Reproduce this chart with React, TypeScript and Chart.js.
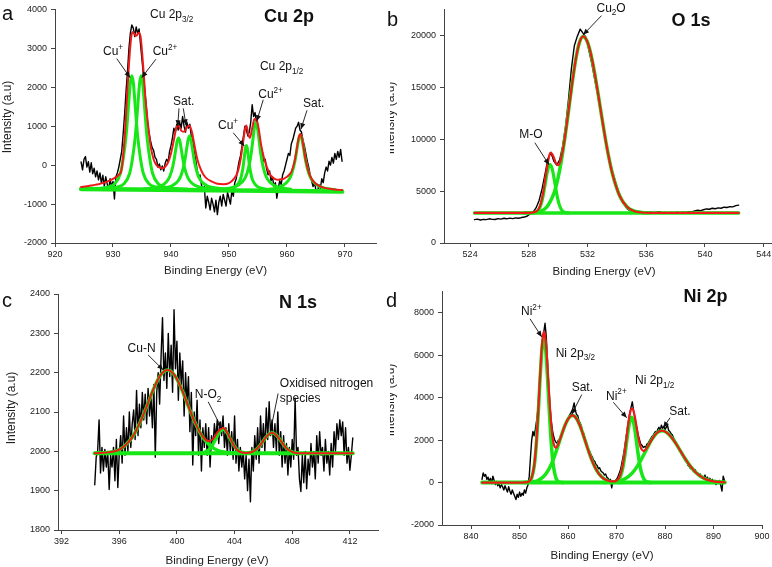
import React, { useEffect, useRef } from "react";
import { Chart, registerables } from "chart.js";
Chart.register(...registerables);

type Pt = [number, number];
const FONT = '"Liberation Sans", Arial, Helvetica, sans-serif';
const GREEN = "#17e617";
const RED = "#ee1a1a";
const BLACK = "#000000";

// ================= Panel a : Cu 2p =================
const cuXTicks = [920, 930, 940, 950, 960, 970];
const cuYTicks = [-2000, -1000, 0, 1000, 2000, 3000, 4000];
const cuRawStart = 924.5;
const cuRawStep = 0.25;
const cuRaw = [
  80, -120, 150, 220,
  -50, 90, -180, 60,
  -220, -80, -300, -150,
  -380, -200, -460, -260,
  -540, -300, -480, -650,
  -350, -560, -420, -870,
  -300, -200, -50, 150,
  350, 800, 1300, 1900,
  2400, 3000, 3400, 3600,
  3520, 3300, 3550, 3380,
  3500, 3100, 2700, 2300,
  1900, 1500, 1050, 800,
  600, 450, 380, 200,
  150, -50, 30, -120,
  -20, -150, 50, 150,
  80, 350, 500, 700,
  950, 850, 1050, 900,
  1100, 950, 1250, 1000,
  850, 1100, 950, 1050,
  750, 600, 350, 150,
  -100, -300, -250, -500,
  -650, -550, -1100, -800,
  -950, -1150, -850, -1000,
  -1200, -900, -1270, -950,
  -800, -1050, -750, -900,
  -1050, -700, -850, -1000,
  -650, -800, -450, -350,
  -100, 100, 250, 500,
  750, 1000, 900, 750,
  850, 1100, 1550, 1250,
  1350, 1050, 850, 700,
  450, 350, 100, 150,
  -100, -250, -150, -400,
  -300, -550, -450, -850,
  -600, -400, -500, -250,
  -150, 0, 150, 300,
  250, 550, 650, 800,
  950, 1000, 1100, 900,
  850, 650, 500, 300,
  100, -50, -250, -400,
  -550, -450, -650, -700,
  -500, -600, -350, -450,
  -200, -50, -150, 100,
  0, 200, 50, 300,
  150, 350, 200, 400,
  100,
];
const cuBase: Pt[] = [[924.5, -615], [969.5, -680]];
const cuPlus32: Pt[] = [
  [925.25, -617], [927.25, -603], [929.25, -559], [930.25, -486], [931.25, -222], [931.75, 159],
  [932.25, 745], [932.5, 1185], [932.75, 1683], [933.0, 2122], [933.25, 2298], [933.5, 2122],
  [933.75, 1683], [934.0, 1185], [934.25, 745], [934.75, 159], [935.25, -222], [936.25, -486],
  [937.25, -559], [939.25, -603], [941.25, -617],
];
const cu2Plus32: Pt[] = [
  [926.85, -617], [928.85, -603], [930.85, -559], [931.85, -486], [932.85, -222], [933.35, 159],
  [933.85, 745], [934.1, 1185], [934.35, 1683], [934.6, 2122], [934.85, 2298], [935.1, 2122],
  [935.35, 1683], [935.6, 1185], [935.85, 745], [936.35, 159], [936.85, -222], [937.85, -486],
  [938.85, -559], [940.85, -603], [942.85, -617],
];
const cuSatA: Pt[] = [
  [935.3, -612], [937.3, -577], [938.3, -530], [939.3, -416], [939.8, -286], [940.3, -42],
  [940.55, 150], [940.8, 383], [941.05, 605], [941.3, 699], [941.55, 605], [941.8, 383],
  [942.05, 150], [942.3, -42], [942.8, -286], [943.3, -416], [944.3, -530], [945.3, -577], [947.3, -612],
];
const cuSatB: Pt[] = [
  [937.2, -612], [939.2, -576], [940.2, -528], [941.2, -409], [941.7, -275], [942.2, -22],
  [942.45, 177], [942.7, 419], [942.95, 650], [943.2, 747], [943.45, 650], [943.7, 419],
  [943.95, 177], [944.2, -22], [944.7, -275], [945.2, -409], [946.2, -528], [947.2, -576], [949.2, -612],
];
const cuPlus12: Pt[] = [
  [949.4, -625], [950.6, -588], [951.2, -540], [951.8, -424], [952.1, -299], [952.4, -76],
  [952.55, 86], [952.7, 272], [952.85, 436], [953.0, 504], [953.15, 436], [953.3, 272],
  [953.45, 86], [953.6, -76], [953.9, -299], [954.2, -424], [954.8, -540], [955.4, -588], [956.6, -625],
];
const cu2Plus12: Pt[] = [
  [948.65, -619], [950.65, -574], [951.65, -512], [952.65, -362], [953.15, -192], [953.65, 129],
  [953.9, 380], [954.15, 687], [954.4, 979], [954.65, 1102], [954.9, 979], [955.15, 687],
  [955.4, 380], [955.65, 129], [956.15, -192], [956.65, -362], [957.65, -512], [958.65, -574], [960.65, -619],
];
const cuSat12: Pt[] = [
  [956.3, -630], [958.3, -584], [959.3, -525], [960.3, -381], [960.8, -225], [961.3, 51],
  [961.55, 253], [961.8, 483], [962.05, 686], [962.3, 771], [962.55, 686], [962.8, 483],
  [963.05, 253], [963.3, 51], [963.8, -225], [964.3, -381], [965.3, -525], [966.3, -584], [968.3, -630],
];
const cuFit: Pt[] = [
  [924.5, -560], [925.5, -540], [926.5, -515], [927.5, -490], [928.5, -450], [929.5, -390],
  [930.5, -310], [931, -250], [931.5, -100], [932, 700], [932.4, 1700], [932.9, 2900],
  [933.2, 3350], [933.45, 3420], [933.95, 3320], [934.5, 3400], [934.8, 3250], [935.2, 2550],
  [935.6, 1700], [936, 1100], [936.5, 480], [937, 150], [937.5, 0], [938, -60], [938.5, -80],
  [939, -40], [939.5, 70], [940, 300], [940.5, 650], [940.9, 950], [941.25, 1020], [941.8, 880],
  [942.25, 860], [942.8, 980], [943.15, 1020], [943.6, 860], [944, 550], [944.5, 180], [945, -60],
  [945.5, -220], [946, -320], [947, -420], [948, -480], [949, -490], [950, -460], [950.8, -360],
  [951.5, -180], [952, 150], [952.4, 550], [952.8, 950], [953, 1020], [953.35, 780], [953.6, 700],
  [954, 950], [954.4, 1180], [954.7, 1190], [955.1, 950], [955.5, 560], [956, 200], [956.5, -40],
  [957, -220], [957.5, -310], [958, -360], [958.5, -375], [959, -365], [959.5, -345], [960, -300],
  [960.3, -260], [960.8, -160], [961.3, 90], [961.55, 290], [961.8, 520], [962.05, 720], [962.3, 800],
  [962.55, 715], [962.8, 510], [963.05, 280], [963.3, 75], [963.8, -205], [964.3, -365], [965.3, -515],
  [966.3, -578], [968.3, -625], [969.5, -640],
];

// ================= Panel b : O 1s =================
const oXTicks = [524, 528, 532, 536, 540, 544];
const oYTicks = [0, 5000, 10000, 15000, 20000];
const oRawStart = 524.3;
const oRawStep = 0.2;
const oRaw = [
  2250, 2300, 2220, 2280, 2250,
  2330, 2280, 2260, 2350, 2300,
  2380, 2330, 2400, 2350, 2420,
  2380, 2450, 2500, 2600, 2800,
  3000, 3400, 4100, 5200, 6600,
  8100, 8750, 7900, 7500, 8000,
  9300, 11200, 13800, 16800, 19000,
  19900, 20600, 20200, 19800, 18500,
  17200, 15700, 14200, 12500, 10800,
  9300, 8000, 6900, 5900, 5000,
  4300, 3700, 3300, 3100, 3000,
  2980, 2920, 3000, 2950, 2930,
  3000, 2900, 2960, 3020, 2900,
  2950, 2880, 2950, 2900, 2980,
  2920, 2970, 2950, 3020, 3000,
  3100, 3150, 3120, 3200, 3280,
  3250, 3350, 3300, 3380, 3350,
  3450, 3420, 3500, 3480, 3600,
  3650,
];
const oBase: Pt[] = [[524.3, 2900], [542.3, 2900]];
const oMO: Pt[] = [
  [528.2, 2900], [528.45, 2947], [528.65, 3146], [528.85, 3790], [529.0, 4735], [529.15, 5976],
  [529.3, 7093], [529.45, 7550], [529.6, 7093], [529.75, 5976], [529.9, 4735], [530.05, 3790],
  [530.25, 3146], [530.45, 2947], [530.7, 2900],
];
const oCu2O: Pt[] = [
  [527.7, 2900], [528.2, 2919], [528.7, 3016], [529.2, 3432], [529.7, 4753], [529.95, 6016],
  [530.2, 7788], [530.45, 10054], [530.7, 12670], [530.95, 15349], [531.2, 17702], [531.45, 19322],
  [531.7, 19900], [531.95, 19502], [532.2, 18367], [532.45, 16643], [532.7, 14548], [532.95, 12318],
  [533.2, 10161], [533.45, 8240], [533.7, 6647], [534.2, 4500], [534.7, 3466], [535.2, 3066],
  [535.7, 2940], [536.2, 2905],
];
const oFit: Pt[] = [
  [524.3, 2900], [527.5, 2900], [528.0, 2909], [528.5, 3032], [528.75, 3527], [529.0, 5034],
  [529.2, 6922], [529.35, 8138], [529.45, 8650], [529.55, 8640], [529.7, 8243], [529.85, 7684],
  [530.0, 7489], [530.15, 7881], [530.3, 8808], [530.45, 10101], [530.7, 12670], [530.95, 15349],
  [531.2, 17702], [531.45, 19322], [531.7, 19900], [531.95, 19502], [532.2, 18367], [532.45, 16643],
  [532.7, 14548], [532.95, 12318], [533.2, 10161], [533.45, 8240], [533.7, 6647], [534.2, 4500],
  [534.7, 3466], [535.2, 3066], [535.7, 2940], [536.5, 2900], [542.3, 2900],
];

// ================= Panel c : N 1s =================
const nXTicks = [392, 396, 400, 404, 408, 412];
const nYTicks = [1800, 1900, 2000, 2100, 2200, 2300, 2400];
const nRawStart = 394.3;
const nRawStep = 0.1;
const nRaw = [
  1915, 1985, 2000, 2080, 1945, 2010, 1950, 2005, 1960, 2000,
  1903, 1990, 1960, 2010, 1925, 2030, 1908, 1995, 2040, 1970,
  2090, 1990, 2060, 2000, 2100, 2010, 2070, 2105, 2030, 2155,
  2040, 2120, 2060, 2150, 2080, 2145, 2070, 2160, 2090, 2140,
  2060, 2170, 1985, 2150, 2200, 2120, 2240, 2340, 2180, 2250,
  2160, 2300, 2190, 2270, 2150, 2360, 2210, 2280, 2130, 2250,
  2170, 2230, 2090, 2200, 2120, 2190, 2050, 2150, 1965, 2100,
  2040, 2130, 1990, 2080, 1950, 2060, 2010, 2070, 1990, 2060,
  1960, 2040, 2010, 2070, 2030, 2080, 2020, 2075, 2040, 2090,
  2010, 2060, 1990, 2070, 2000, 2050, 1980, 2090, 1970, 2030,
  1950, 2010, 1960, 2000, 1930, 1990, 1900, 1980, 1872, 2010,
  1950, 2040, 1980, 2060, 1970, 2090, 2010, 2070, 2000, 2110,
  2030, 2126, 2040, 2080, 2010, 2070, 2000, 2100, 1990, 2050,
  1960, 2040, 1970, 2020, 1940, 2010, 1960, 2030, 1980, 2135,
  1990, 2010, 1930, 1898, 1990, 1920, 2000, 1905, 1980, 1940,
  2020, 1960, 2000, 1930, 2040, 1970, 2050, 1990, 2010, 1950,
  2030, 1970, 2000, 1940, 2020, 1960, 2050, 2000, 2070, 2030,
  2080, 2040, 2075, 1990, 2060, 1970, 2010, 1952, 1990, 2034,
];
const nBase: Pt[] = [[394.3, 1995], [412.2, 1995]];
const nCuN: Pt[] = [
  [394.35, 1995], [395.35, 1998], [395.85, 2002], [396.35, 2013], [396.85, 2033], [397.35, 2066],
  [397.85, 2109], [398.35, 2156], [398.85, 2193], [399.35, 2207], [399.85, 2193], [400.35, 2156],
  [400.85, 2109], [401.35, 2066], [401.85, 2033], [402.35, 2013], [402.85, 2002], [403.35, 1998], [404.35, 1995],
];
const nNO2: Pt[] = [
  [401.7, 1996], [401.95, 1998], [402.2, 2003], [402.45, 2015], [402.7, 2032], [402.95, 2049],
  [403.2, 2056], [403.45, 2049], [403.7, 2032], [403.95, 2015], [404.2, 2003], [404.45, 1998], [404.7, 1996],
];
const nOx: Pt[] = [
  [404.8, 1995], [405.1, 1997], [405.4, 2002], [405.7, 2012], [406.0, 2027], [406.3, 2041],
  [406.6, 2047], [406.9, 2041], [407.2, 2027], [407.5, 2012], [407.8, 2002], [408.1, 1997], [408.4, 1995],
];
const nFit: Pt[] = [
  [394.3, 1995], [395.35, 1998], [395.85, 2002], [396.35, 2013], [396.85, 2033], [397.35, 2066],
  [397.85, 2109], [398.35, 2156], [398.85, 2193], [399.35, 2207], [399.85, 2193], [400.35, 2156],
  [400.85, 2109], [401.35, 2066], [401.85, 2035], [402.2, 2026], [402.5, 2031], [402.85, 2050],
  [403.2, 2060], [403.45, 2050], [403.7, 2033], [403.95, 2015], [404.2, 2003], [404.5, 1997],
  [404.8, 1996], [405.1, 1997], [405.4, 2002], [405.7, 2012], [406.0, 2027], [406.3, 2041],
  [406.6, 2047], [406.9, 2041], [407.2, 2027], [407.5, 2012], [407.8, 2002], [408.1, 1997],
  [408.4, 1995], [412.2, 1995],
];

// ================= Panel d : Ni 2p =================
const niXTicks = [840, 850, 860, 870, 880, 890, 900];
const niYTicks = [-2000, 0, 2000, 4000, 6000, 8000];
const niRawStart = 842.25;
const niRawStep = 0.25;
const niRaw = [
  150, 450, 300, 380,
  150, 250, 50, 200,
  -50, 300, 100, -100,
  50, -150, -50, -250,
  -100, -200, -350, -150,
  -300, -450, -200, -400,
  -550, -350, -500, -650,
  -800, -550, -700, -450,
  -650, -500, -600, -350,
  -500, -250, -100, 300,
  1200, 2000, 2400, 2200,
  2500, 2900, 3400, 4200,
  5000, 5900, 6700, 7100,
  7500, 6900, 5800, 4600,
  3700, 3000, 2500, 2200,
  2000, 1900, 1850, 2000,
  1900, 2150, 2300, 2450,
  2600, 2750, 2900, 3000,
  3150, 3250, 3350, 3500,
  3750, 3400, 3200, 3150,
  2900, 2800, 2650, 2400,
  2300, 2050, 1900, 1700,
  1550, 1450, 1300, 1200,
  1050, 1000, 850, 800,
  650, 700, 550, 500,
  450, 350, 400, 250,
  200, 100, 150, -250,
  50, 0, 100, 150,
  250, 400, 550, 800,
  1100, 1400, 1800, 2200,
  2600, 2950, 3300, 3550,
  3800, 3400, 3100, 2800,
  2500, 2200, 2000, 1800,
  1750, 1650, 1700, 1650,
  1800, 1850, 1950, 2050,
  2150, 2200, 2300, 2400,
  2350, 2500, 2600, 2450,
  2700, 2550, 2650, 2500,
  2600, 2700, 2450, 2400,
  2300, 2250, 2100, 2000,
  1900, 1750, 1650, 1550,
  1400, 1300, 1200, 1100,
  1000, 950, 800, 750,
  650, 700, 550, 500,
  600, 400, 450, 350,
  400, 250, 300, 200,
  350, 150, 250, 100,
  200, 50, 150, 0,
  100, -100, 50, -50,
  100, -150, -400, 300,
  100,
];
const niBase: Pt[] = [[842.3, 0], [892.3, 0]];
const niMain32: Pt[] = [
  [851, 0], [851.5, 8], [852, 46], [852.5, 213], [853, 741], [853.25, 1246], [853.5, 1955],
  [853.75, 2862], [854, 3908], [854.25, 4980], [854.5, 5920], [854.75, 6568], [855, 6800],
  [855.25, 6568], [855.5, 5920], [855.75, 4980], [856, 3908], [856.25, 2862], [856.5, 1955],
  [856.75, 1246], [857, 741], [857.5, 213], [858, 46], [858.5, 8], [859, 0],
];
const niSat32: Pt[] = [
  [850.9, 0], [851.9, 12], [852.9, 39], [853.9, 110], [854.9, 268], [855.9, 569], [856.9, 1055],
  [857.4, 1364], [857.9, 1705], [858.4, 2058], [858.9, 2402], [859.4, 2708], [859.9, 2951],
  [860.4, 3106], [860.9, 3160], [861.4, 3106], [861.9, 2951], [862.4, 2708], [862.9, 2402],
  [863.4, 2058], [863.9, 1705], [864.4, 1364], [864.9, 1055], [865.9, 569], [866.9, 268],
  [867.9, 110], [868.9, 39], [869.9, 12], [870.9, 0],
];
const niMain12: Pt[] = [
  [869.1, 0], [869.6, 12], [870.1, 52], [870.6, 181], [871.1, 500], [871.35, 766], [871.6, 1107],
  [871.85, 1511], [872.1, 1951], [872.35, 2379], [872.6, 2741], [872.85, 2984], [873.1, 3070],
  [873.35, 2984], [873.6, 2741], [873.85, 2379], [874.1, 1951], [874.35, 1511], [874.6, 1107],
  [874.85, 766], [875.1, 500], [875.6, 181], [876.1, 52], [876.6, 12], [877.1, 0],
];
const niSat12: Pt[] = [
  [867.3, 0], [868.3, 9], [869.3, 25], [870.3, 59], [871.3, 129], [872.3, 257], [873.3, 467],
  [874.3, 774], [875.3, 1170], [876.3, 1614], [877.3, 2031], [878.3, 2331], [879.3, 2440],
  [880.3, 2361], [881.3, 2139], [882.3, 1815], [883.3, 1442], [884.3, 1073], [885.3, 747],
  [886.3, 487], [887.3, 298], [888.3, 170], [889.3, 91], [890.3, 46], [891.3, 21], [892.3, 9],
];
const niFit: Pt[] = [
  [842.3, 0], [850.5, 0], [851, 4], [852, 60], [852.5, 238], [853, 785], [853.25, 1303],
  [853.5, 2029], [853.75, 2957], [854, 4028], [854.25, 5130], [854.5, 6110], [854.75, 6803],
  [855, 7090], [855.25, 6922], [855.5, 6347], [855.75, 5492], [856, 4517], [856.25, 3579],
  [856.5, 2792], [856.75, 2216], [857, 1855], [857.5, 1643], [858, 1821], [858.5, 2137],
  [858.9, 2402], [859.4, 2708], [859.9, 2951], [860.4, 3106], [860.9, 3160], [861.4, 3106],
  [861.9, 2951], [862.4, 2708], [862.9, 2402], [863.4, 2058], [863.9, 1705], [864.4, 1364],
  [864.9, 1055], [865.9, 569], [866.9, 270], [867.9, 116], [868.9, 56], [869.6, 58], [870.1, 106],
  [870.6, 257], [871.1, 611], [871.35, 900], [871.6, 1267], [871.85, 1702], [872.1, 2177],
  [872.35, 2644], [872.6, 3052], [872.85, 3345], [873.1, 3487], [873.35, 3464], [873.6, 3290],
  [873.85, 3003], [874.1, 2656], [874.35, 2303], [874.6, 1992], [874.85, 1749], [875.1, 1586],
  [875.6, 1483], [876.1, 1577], [876.6, 1758], [877.3, 2031], [878.3, 2331], [879.3, 2440],
  [880.3, 2361], [881.3, 2139], [882.3, 1815], [883.3, 1442], [884.3, 1073], [885.3, 747],
  [886.3, 487], [887.3, 298], [888.3, 170], [889.3, 91], [890.3, 46], [892.3, 9],
];

// ================= helpers & layout =================
const pts = (a: Pt[]) => a.map(([x, y]) => ({ x, y }));
const grid = (start: number, step: number, ys: number[]) =>
  ys.map((y, i) => ({ x: Math.round((start + i * step) * 1000) / 1000, y }));

type Part = { t: string; s?: "sup" | "sub" };
type Note = { parts: Part[]; x: number; y: number };
type Arrow = [number, number, number, number, boolean];
type Series = { data: { x: number; y: number }[]; color: string; width: number; order: number; smooth: boolean };
type Spec = {
  canvas: { left: number; top: number; w: number; h: number };
  plot: { left: number; top: number; right: number; bottom: number };
  x: [number, number];
  y: [number, number];
  xTicks: number[];
  yTicks: number[];
  series: Series[];
  letter: [string, number, number];
  title: [string, number, number];
  xTitle: [number, number];
  yTitle: [number, number, number];
  notes: Note[];
  arrows: Arrow[];
};

const raw = (d: { x: number; y: number }[]): Series => ({ data: d, color: BLACK, width: 1.4, order: 3, smooth: false });
const comp = (d: Pt[], w = 3): Series => ({ data: pts(d), color: GREEN, width: w, order: 2, smooth: true });
const fit = (d: Pt[], w = 2): Series => ({ data: pts(d), color: RED, width: w, order: 1, smooth: true });
const sup = (t: string): Part => ({ t, s: "sup" });
const sub = (t: string): Part => ({ t, s: "sub" });

const specs: Spec[] = [
  {
    canvas: { left: 0, top: 0, w: 386, h: 282 },
    plot: { left: 55, top: 7, right: 376, bottom: 243 },
    x: [920, 975.35],
    y: [-2000, 4000],
    xTicks: cuXTicks,
    yTicks: cuYTicks,
    series: [
      raw(grid(cuRawStart, cuRawStep, cuRaw)),
      comp(cuBase, 4.5),
      comp(cuPlus32), comp(cu2Plus32), comp(cuSatA), comp(cuSatB),
      comp(cuPlus12), comp(cu2Plus12), comp(cuSat12),
      fit(cuFit),
    ],
    letter: ["a", 2, 20],
    title: ["Cu 2p", 289, 21.5],
    xTitle: [215.5, 274],
    yTitle: [7.5, 117, -10],
    notes: [
      { parts: [{ t: "Cu 2p" }, sub("3/2")], x: 936.38, y: 3771 },
      { parts: [{ t: "Cu" }, sup("+")], x: 928.28, y: 2830 },
      { parts: [{ t: "Cu" }, sup("2+")], x: 936.84, y: 2830 },
      { parts: [{ t: "Sat." }], x: 940.34, y: 1534 },
      { parts: [{ t: "Cu 2p" }, sub("1/2")], x: 955.34, y: 2441 },
      { parts: [{ t: "Cu" }, sup("+")], x: 948.1, y: 924 },
      { parts: [{ t: "Cu" }, sup("2+")], x: 955.05, y: 1720 },
      { parts: [{ t: "Sat." }], x: 962.76, y: 1483 },
    ],
    arrows: [
      [930.64, 2737, 932.95, 2246, true],
      [937.41, 2722, 934.95, 2246, true],
      [941.38, 1458, 941.16, 1000, true],
      [942.12, 1458, 942.59, 1025, true],
      [950.74, 830, 952.64, 492, true],
      [955.91, 1679, 954.78, 1127, true],
      [963.45, 1407, 962.41, 924, true],
    ],
  },
  {
    canvas: { left: 386, top: 0, w: 420, h: 282 },
    plot: { left: 58, top: 7, right: 385, bottom: 243 },
    x: [522.22, 544.5],
    y: [0, 22500],
    xTicks: oXTicks,
    yTicks: oYTicks,
    series: [
      raw(grid(oRawStart, oRawStep, oRaw)),
      comp(oBase, 3.5), comp(oMO, 3.2), comp(oCu2O, 3.5),
      fit(oFit, 2.2),
    ],
    letter: ["b", 1, 26],
    title: ["O 1s", 305, 26],
    xTitle: [218, 275],
    yTitle: [4.5, 118, 4],
    notes: [
      { parts: [{ t: "Cu" }, sub("2"), { t: "O" }], x: 532.61, y: 22262 },
      { parts: [{ t: "M-O" }], x: 527.34, y: 10077 },
    ],
    arrows: [
      [532.95, 21900, 531.7, 20050, true],
      [528.41, 9658, 529.38, 7532, true],
    ],
  },
  {
    canvas: { left: 0, top: 282, w: 386, h: 285 },
    plot: { left: 58, top: 12, right: 378, bottom: 248 },
    x: [391.75, 413.95],
    y: [1800, 2400],
    xTicks: nXTicks,
    yTicks: nYTicks,
    series: [
      raw(grid(nRawStart, nRawStep, nRaw)),
      comp(nBase, 4), comp(nCuN, 3.5), comp(nNO2, 3.5), comp(nOx, 3.5),
      fit(nFit, 2),
    ],
    letter: ["c", 2, 25],
    title: ["N 1s", 298, 26],
    xTitle: [217, 282],
    yTitle: [11.3, 126, -10],
    notes: [
      { parts: [{ t: "Cu-N" }], x: 396.58, y: 2253 },
      { parts: [{ t: "N-O" }, sub("2")], x: 401.24, y: 2135 },
      { parts: [{ t: "Oxidised nitrogen" }], x: 407.14, y: 2164 },
      { parts: [{ t: "species" }], x: 407.14, y: 2126 },
    ],
    arrows: [
      [398.0, 2245, 399.05, 2207, true],
      [402.17, 2126, 403.1, 2059, true],
      [407.02, 2147, 406.6, 2071, false],
    ],
  },
  {
    canvas: { left: 386, top: 282, w: 420, h: 285 },
    plot: { left: 56, top: 7, right: 376, bottom: 243 },
    x: [834, 900],
    y: [-2000, 9000],
    xTicks: niXTicks,
    yTicks: niYTicks,
    series: [
      raw(grid(niRawStart, niRawStep, niRaw)),
      comp(niBase, 4), comp(niMain32, 3.5), comp(niSat32, 3.5), comp(niMain12, 3.5), comp(niSat12, 3.5),
      fit(niFit, 2.2),
    ],
    letter: ["d", 0, 25],
    title: ["Ni 2p", 319.5, 20],
    xTitle: [216, 277],
    yTitle: [4.5, 118, 4],
    notes: [
      { parts: [{ t: "Ni" }, sup("2+")], x: 850.3, y: 7867 },
      { parts: [{ t: "Ni 2p" }, sub("3/2")], x: 857.45, y: 5924 },
      { parts: [{ t: "Sat." }], x: 860.75, y: 4325 },
      { parts: [{ t: "Ni" }, sup("2+")], x: 867.83, y: 3905 },
      { parts: [{ t: "Ni 2p" }, sub("1/2")], x: 873.81, y: 4633 },
      { parts: [{ t: "Sat." }], x: 880.89, y: 3173 },
    ],
    arrows: [
      [852.15, 7709, 854.57, 6856, true],
      [862.82, 4139, 860.75, 3206, true],
      [869.33, 3780, 872.1, 3048, true],
      [881.03, 3048, 879.65, 2582, true],
    ],
  },
];

function drawRich(ctx: CanvasRenderingContext2D, parts: Part[], x: number, y: number, size: number) {
  let cx = x;
  ctx.textAlign = "left";
  ctx.textBaseline = "alphabetic";
  for (const p of parts) {
    const fs = p.s ? size * 0.68 : size;
    ctx.font = `${fs}px ${FONT}`;
    const dy = p.s === "sup" ? -size * 0.45 : p.s === "sub" ? size * 0.3 : 0;
    ctx.fillText(p.t, cx, y + dy);
    cx += ctx.measureText(p.t).width;
  }
}

function drawArrow(ctx: CanvasRenderingContext2D, x1: number, y1: number, x2: number, y2: number, head: boolean) {
  ctx.beginPath();
  ctx.moveTo(x1, y1);
  ctx.lineTo(x2, y2);
  ctx.stroke();
  if (!head) return;
  const a = Math.atan2(y2 - y1, x2 - x1);
  const L = 6, W = 2.6;
  const c = Math.cos(a), s = Math.sin(a);
  ctx.beginPath();
  ctx.moveTo(x2, y2);
  ctx.lineTo(x2 - L * c + W * s, y2 - L * s - W * c);
  ctx.lineTo(x2 - L * c - W * s, y2 - L * s + W * c);
  ctx.closePath();
  ctx.fill();
}

function overlay(spec: Spec) {
  return {
    id: "overlay",
    afterDraw(chart: any) {
      const ctx: CanvasRenderingContext2D = chart.ctx;
      const xs = chart.scales.x, ys = chart.scales.y;
      ctx.save();
      ctx.fillStyle = "#111";
      ctx.strokeStyle = "#111";
      ctx.lineWidth = 0.9;
      ctx.font = `20px ${FONT}`;
      ctx.textAlign = "left";
      ctx.textBaseline = "alphabetic";
      ctx.fillText(spec.letter[0], spec.letter[1], spec.letter[2]);
      ctx.font = `bold 18px ${FONT}`;
      ctx.textAlign = "center";
      ctx.fillText(spec.title[0], spec.title[1], spec.title[2]);
      ctx.font = `11.5px ${FONT}`;
      ctx.fillStyle = "#222";
      ctx.fillText("Binding Energy (eV)", spec.xTitle[0], spec.xTitle[1]);
      ctx.save();
      ctx.beginPath();
      ctx.rect(spec.yTitle[2], 0, 60, chart.height);
      ctx.clip();
      ctx.translate(spec.yTitle[0], spec.yTitle[1]);
      ctx.rotate(-Math.PI / 2);
      ctx.font = `12px ${FONT}`;
      ctx.textBaseline = "middle";
      ctx.fillText("Intensity (a.u)", 0, 0);
      ctx.restore();
      ctx.fillStyle = "#111";
      for (const n of spec.notes) {
        drawRich(ctx, n.parts, xs.getPixelForValue(n.x), ys.getPixelForValue(n.y), 12);
      }
      for (const a of spec.arrows) {
        drawArrow(ctx, xs.getPixelForValue(a[0]), ys.getPixelForValue(a[1]),
          xs.getPixelForValue(a[2]), ys.getPixelForValue(a[3]), a[4]);
      }
      ctx.restore();
    },
  };
}

function buildConfig(spec: Spec): any {
  const axisCommon = {
    type: "linear",
    grid: { display: true, drawOnChartArea: false, drawTicks: true, tickLength: 4, color: "#444", lineWidth: 1 },
    border: { display: true, color: "#444", width: 1 },
  };
  return {
    type: "line",
    data: {
      datasets: spec.series.map((s) => ({
        data: s.data,
        borderColor: s.color,
        backgroundColor: s.color,
        borderWidth: s.width,
        pointRadius: 0,
        pointHoverRadius: 0,
        fill: false,
        order: s.order,
        tension: 0,
        cubicInterpolationMode: s.smooth ? "monotone" : "default",
        borderJoinStyle: "round",
        borderCapStyle: "round",
      })),
    },
    options: {
      animation: false,
      responsive: false,
      maintainAspectRatio: false,
      devicePixelRatio: 1,
      events: [],
      layout: { padding: { left: 0, top: spec.plot.top, right: spec.canvas.w - spec.plot.right, bottom: 0 } },
      plugins: { legend: { display: false }, tooltip: { enabled: false }, title: { display: false } },
      scales: {
        x: {
          ...axisCommon,
          position: "bottom",
          min: spec.x[0],
          max: spec.x[1],
          afterBuildTicks: (sc: any) => { sc.ticks = spec.xTicks.map((v) => ({ value: v })); },
          afterFit: (sc: any) => { sc.height = spec.canvas.h - spec.plot.bottom; },
          ticks: {
            autoSkip: false, maxRotation: 0,
            font: { size: 9, family: FONT }, color: "#222", padding: 2,
            callback: (v: number) => String(v),
          },
        },
        y: {
          ...axisCommon,
          position: "left",
          min: spec.y[0],
          max: spec.y[1],
          afterBuildTicks: (sc: any) => { sc.ticks = spec.yTicks.map((v) => ({ value: v })); },
          afterFit: (sc: any) => { sc.width = spec.plot.left; },
          ticks: {
            autoSkip: false,
            font: { size: 9, family: FONT }, color: "#222", padding: 4,
            callback: (v: number) => String(v),
          },
        },
      },
    },
    plugins: [overlay(spec)],
  };
}

function Panel({ spec }: { spec: Spec }) {
  const ref = useRef<HTMLCanvasElement>(null);
  useEffect(() => {
    const cv = ref.current;
    if (!cv) return;
    const chart = new Chart(cv, buildConfig(spec));
    return () => chart.destroy();
  }, [spec]);
  return (
    <canvas
      ref={ref}
      width={spec.canvas.w}
      height={spec.canvas.h}
      style={{ position: "absolute", left: spec.canvas.left, top: spec.canvas.top, width: spec.canvas.w, height: spec.canvas.h }}
    />
  );
}

export default function App() {
  return (
    <div style={{ position: "fixed", left: 0, top: 0, width: 772, height: 567, overflow: "hidden", background: "#fff" }}>
      {specs.map((s, i) => (
        <Panel key={i} spec={s} />
      ))}
    </div>
  );
}
